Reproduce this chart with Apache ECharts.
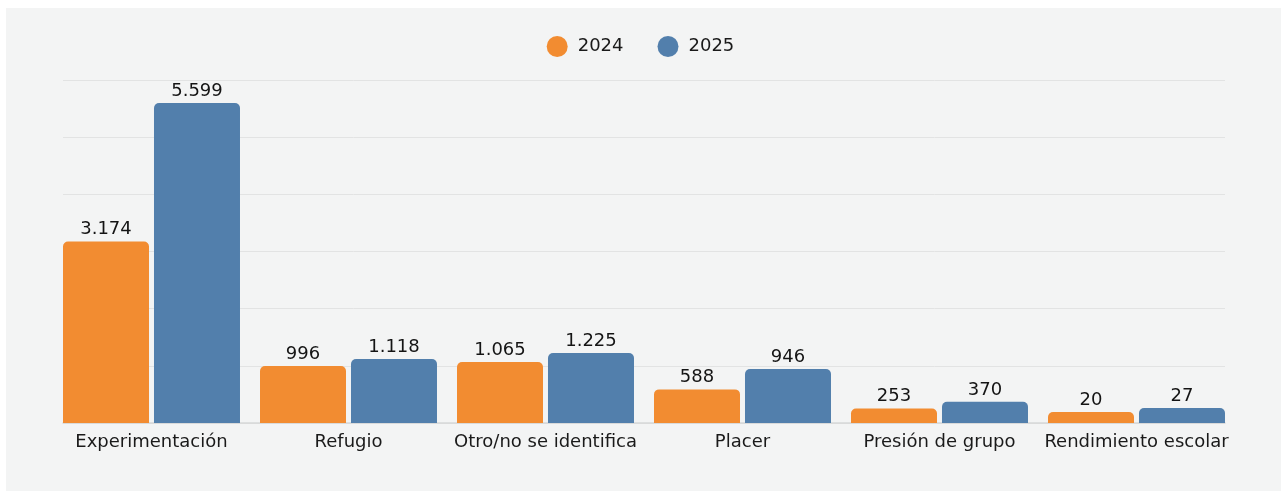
<!DOCTYPE html>
<html>
<head>
<meta charset="utf-8">
<script src="https://cdn.jsdelivr.net/npm/echarts@6/dist/echarts.min.js"></script>
<style>
    html, body { margin: 0; padding: 0; background: #ffffff; }
    #panel { position: absolute; left: 6px; top: 8px; width: 1275px; height: 483px; background: #f3f4f4; }
    #chart { position: absolute; left: 0; top: 0; width: 1281px; height: 491px; }
</style>
</head>
<body>
<div id="panel"></div>
<div id="chart"></div>
<script>
const categories = ['Experimentación', 'Refugio', 'Otro/no se identifica', 'Placer', 'Presión de grupo', 'Rendimiento escolar'];
const seriesNames = ['2024', '2025'];
const values2024 = [3174, 996, 1065, 588, 253, 20];
const values2025 = [5599, 1118, 1225, 946, 370, 27];

const ORANGE = '#f28c31';
const BLUE = '#527fac';
const FONT = 'DejaVu Sans';

// miles con punto
function fmt(v) {
    return String(v).replace(/\B(?=(\d{3})+(?!\d))/g, '.');
}

let myChart = echarts.init(document.getElementById('chart'));

let barLabel = {
    show: true,
    position: 'top',
    distance: 3,
    color: '#141414',
    fontFamily: FONT,
    fontSize: 18,
    formatter: (p) => fmt(p.value)
};

let option = {
    backgroundColor: 'transparent',
    animation: false,
    legend: {
        top: 31,
        left: 'center',
        icon: 'circle',
        itemWidth: 21,
        itemHeight: 21,
        itemGap: 34,
        textStyle: {
            color: '#1a1a1a',
            fontFamily: FONT,
            fontSize: 18,
            padding: [0, 0, 0, 5]
        },
        data: seriesNames
    },
    grid: [
        // barras
        { left: 53, right: 46, top: 80, bottom: 68 },
        // lineas de fondo
        { left: 63, right: 56, top: 80, bottom: 68 }
    ],
    xAxis: [
        {
            gridIndex: 0,
            type: 'category',
            data: categories,
            axisLine: { show: false },
            axisTick: { show: false },
            axisLabel: {
                color: '#1a1a1a',
                fontFamily: FONT,
                fontSize: 18,
                margin: 10,
                interval: 0
            }
        },
        {
            gridIndex: 1,
            type: 'category',
            data: categories,
            axisLine: { show: true, lineStyle: { color: '#d6d7d7', width: 1.5 } },
            axisTick: { show: false },
            axisLabel: { show: false }
        }
    ],
    yAxis: [
        {
            gridIndex: 0,
            type: 'value',
            min: 0,
            max: 6000,
            interval: 1000,
            axisLabel: { show: false },
            splitLine: { show: false }
        },
        {
            gridIndex: 1,
            type: 'value',
            min: 0,
            max: 6000,
            interval: 1000,
            axisLabel: { show: false },
            axisLine: { show: false },
            axisTick: { show: false },
            splitLine: { show: true, lineStyle: { color: '#e2e3e3', width: 1 } }
        }
    ],
    series: [
        {
            name: seriesNames[0],
            type: 'bar',
            xAxisIndex: 0,
            yAxisIndex: 0,
            data: values2024,
            barWidth: 86,
            barGap: '5.8%',
            barMinHeight: 11,
            itemStyle: { color: ORANGE, borderRadius: [5, 5, 0, 0] },
            label: barLabel
        },
        {
            name: seriesNames[1],
            type: 'bar',
            xAxisIndex: 0,
            yAxisIndex: 0,
            data: values2025,
            barWidth: 86,
            barGap: '5.8%',
            barMinHeight: 15,
            itemStyle: { color: BLUE, borderRadius: [5, 5, 0, 0] },
            label: barLabel
        }
    ]
};

myChart.setOption(option);
</script>
</body>
</html>
